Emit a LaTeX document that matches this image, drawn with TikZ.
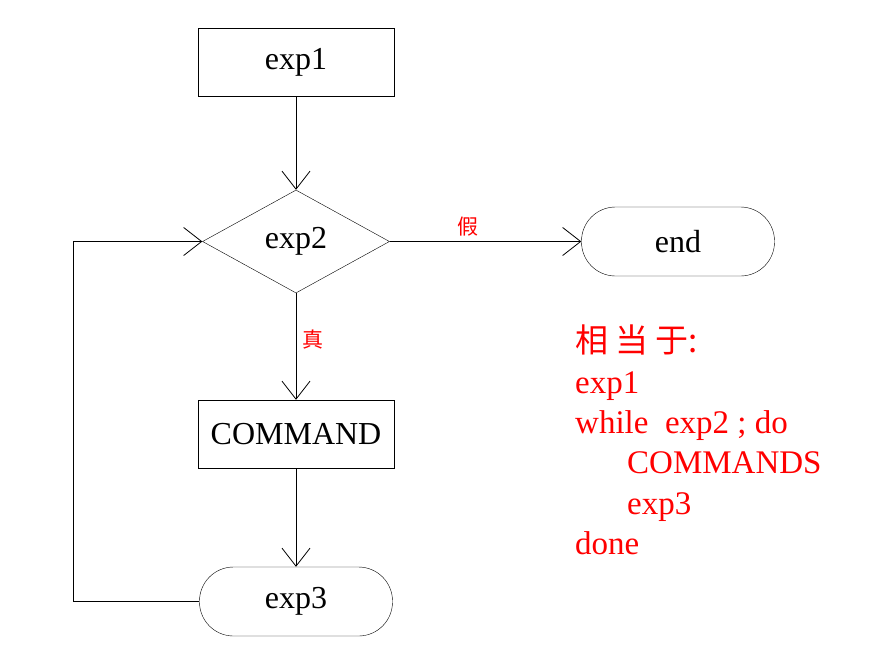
\documentclass[tikz,border=0pt]{standalone}
\usepackage{fontspec}
\setmainfont{Liberation Serif}
\newfontfamily\cjk{Noto Sans CJK SC}
\usetikzlibrary{shapes.geometric,arrows.meta}
\tikzset{
	box node/.style={rectangle, draw, minimum width=196, minimum height=68, inner sep=0, font=\fontsize{32}{38}\selectfont},
	round node/.style={rectangle, draw, rounded corners=34, minimum width=193, minimum height=69, inner sep=0, font=\fontsize{32}{38}\selectfont},
	test node/.style={diamond, draw, minimum width=187, minimum height=103, inner sep=0, font=\fontsize{32}{38}\selectfont},
	flow/.style={-{Straight Barb[length=18, width=28, line width=0.8]}, line width=0.8},
	red text/.style={text=red, anchor=base west, inner sep=0, font=\fontsize{33}{38}\selectfont},
	tag/.style={text=red, inner sep=0, font=\cjk\fontsize{21}{24}\selectfont},
}

\begin{document}
\begin{tikzpicture}[x=1pt, y=-1pt]
 \useasboundingbox (0,0) rectangle (880,657);

 % flow chart
 \node(exp1)[box node] at (296,62.5) {exp1};
 \node(exp2)[test node] at (296,241.5) {exp2};
 \node(end)[round node] at (678,241.5) {end};
 \node(cmd)[box node] at (296,434) {COMMAND};
 \node(exp3)[round node] at (296,601.5) {exp3};
 \coordinate(c1) at (73,601.5);
 \coordinate(c2) at (73,241.5);

 \draw[flow] (exp1) -- (exp2);
 \draw[flow] (exp2) -- node[tag, pos=0.41, above=5]{假} (end);
 \draw[flow] (exp2) -- node[tag, pos=0.43, right=6]{真} (cmd);
 \draw[flow] (cmd) -- (exp3);
 \draw[flow] (exp3.west) -- (c1) -- (c2) -- (exp2.west);

 % the same loop as text
 \node(t0)[red text] at (575,352) {\cjk 相 当 于:};
 \node(t1)[red text] at (575,393) {exp1};
 \node(t2)[red text] at (575,433) {while\ \ exp2 ; do};
 \node(t3)[red text] at (627,473) {COMMANDS};
 \node(t4)[red text] at (627,514) {exp3};
 \node(t5)[red text] at (575,554) {done};

\end{tikzpicture}
\end{document}
